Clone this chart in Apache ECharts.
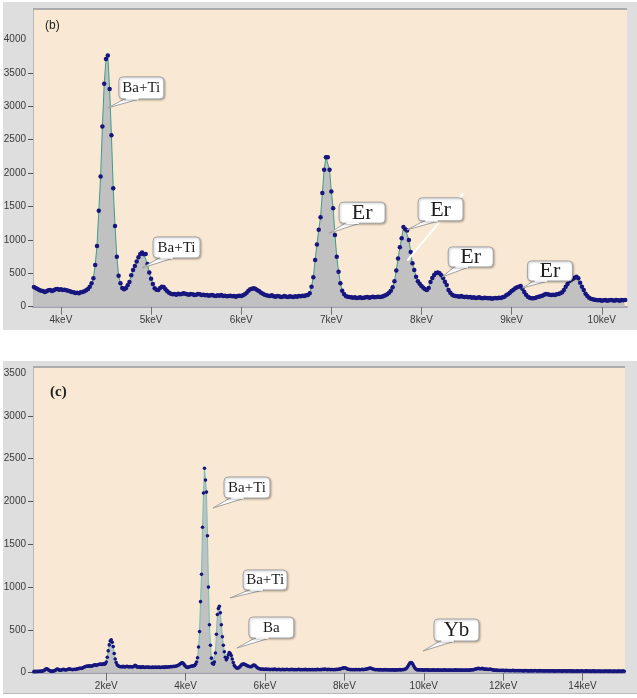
<!DOCTYPE html>
<html>
<head>
<meta charset="utf-8">
<script src="https://cdn.jsdelivr.net/npm/echarts@6/dist/echarts.min.js"></script>
<style>
  html, body { margin: 0; padding: 0; background: #ffffff; }
  #chart { width: 637px; height: 698px; }
</style>
</head>
<body>
<div id="chart"></div>
<script>
// ---------- Spectrum (b): counts per 0.02 keV channel, first channel at 3.70 keV ----------
const specB_start = 3.70;
const specB_step = 0.02;
const specB_counts = [
  // 3.70 - 4.32 keV
  295, 280, 265, 250, 240, 235, 220, 230, 245, 250, 235, 245, 260, 265, 255, 260, 250, 255, 245, 240,
  230, 220, 215, 205, 210, 200, 215, 220, 230, 245, 265, 300,
  // 4.34 - 4.70 keV
  350, 425, 625, 910, 1434, 1948, 2697, 3336, 3706, 3760, 3257, 2567, 1773, 1209, 749, 465, 350, 280, 262,
  // 4.72 - 5.22 keV
  275, 320, 370, 470, 550, 610, 675, 740, 790, 810, 785, 790, 640, 510, 420, 340, 275, 255, 250, 280,
  300, 295, 260, 230, 210, 195,
  // 5.24 - 6.00 keV
  185, 190, 180, 195, 185, 190, 200, 195, 185, 180, 190, 185, 175, 180, 190, 185, 175, 180, 170, 175,
  165, 170, 175, 165, 160, 170, 165, 175, 160, 165, 155, 160, 165, 155, 160, 150, 160, 165, 160,
  // 6.02 - 6.28 keV
  170, 185, 210, 240, 260, 270, 275, 265, 245, 230, 210, 195, 180, 170,
  // 6.30 - 6.74 keV
  165, 160, 170, 155, 150, 160, 155, 145, 150, 160, 150, 145, 155, 150, 145, 155, 150, 160, 155, 165,
  160, 170, 175,
  // 6.76 - 7.16 keV
  200, 300, 440, 700, 930, 1150, 1340, 1700, 2048, 2238, 2238, 2048, 1723, 1474, 1074, 749, 524, 350, 240, 190,
  160,
  // 7.18 - 7.60 keV
  150, 145, 140, 135, 140, 130, 135, 140, 130, 135, 140, 145, 135, 140, 150, 140, 145, 150, 145, 150,
  160, 170,
  // 7.62 - 8.36 keV
  185, 210, 240, 290, 380, 540, 720, 890, 1024, 1194, 1160, 1139, 999, 820, 650, 550, 450, 380, 345, 310,
  285, 260, 250, 280, 370, 430, 475, 505, 510, 500, 470, 430, 375, 325, 250, 210, 180, 165,
  // 8.38 - 8.92 keV
  160, 155, 150, 160, 150, 145, 150, 140, 145, 135, 140, 130, 135, 140, 130, 125, 135, 130, 125, 130,
  120, 125, 130, 125, 135, 130, 140, 150,
  // 8.94 - 9.22 keV
  170, 185, 210, 235, 255, 275, 290, 300, 310, 270, 220, 180, 150, 135, 125,
  // 9.24 - 9.56 keV
  125, 130, 140, 150, 155, 165, 180, 190, 185, 180, 175, 180, 175, 185, 190, 200, 215,
  // 9.58 - 9.90 keV
  250, 300, 340, 385, 405, 420, 435, 450, 425, 360, 300, 250, 195, 160, 135, 120, 110,
  // 9.92 - 10.26 keV
  105, 100, 95, 100, 90, 95, 100, 90, 95, 100, 95, 90, 100, 95, 90, 100, 95, 100
];

// ---------- Spectrum (c): counts per 0.025 keV channel, first channel at 0.15 keV ----------
const specC_start = 0.15;
const specC_step = 0.025;
const specC_counts = [
  14, 12, 15, 13, 16, 14, 15, 17, 16, 18, 20, 24, 32, 42, 47, 40, 30, 22, 18, 16,          // 0.150
  18, 20, 22, 30, 40, 43, 36, 30, 28, 32, 36, 39, 35, 32, 34, 38, 42, 45, 40, 38,          // 0.650
  36, 38, 40, 37, 42, 45, 48, 50, 52, 50, 55, 60, 66, 72, 76, 78, 75, 80, 78, 76,          // 1.150
  80, 85, 88, 92, 86, 90, 95, 98, 102, 96, 100, 104, 98, 105, 125, 180, 255, 325, 370, 385, // 1.650
  355, 305, 225, 160, 118, 92, 80, 74, 70, 72, 68, 74, 70, 66, 72, 75, 70, 68, 73, 70,     // 2.150
  66, 70, 74, 85, 80, 68, 64, 66, 70, 62, 65, 68, 64, 60, 66, 63, 67, 62, 64, 60,          // 2.650
  62, 65, 60, 64, 66, 61, 63, 67, 62, 60, 64, 66, 62, 65, 68, 64, 66, 70, 67, 72,          // 3.150
  70, 72, 74, 72, 76, 80, 84, 90, 98, 108, 115, 117, 105, 88, 74, 64, 62, 66, 70, 74,      // 3.650
  76, 80, 78, 85, 100, 125, 175, 300, 480, 830, 1150, 1700, 2100, 2388, 2250, 2110, 1600, 1000, 560, 320, // 4.150
  170, 110, 100, 125, 230, 450, 680, 750, 775, 700, 560, 420, 320, 245, 180, 150, 175, 210, 235, 225,     // 4.650
  200, 160, 120, 85, 70, 58, 52, 55, 62, 75, 88, 98, 102, 100, 95, 88, 82, 78, 72, 70,     // 5.150
  70, 78, 86, 90, 84, 72, 60, 52, 48, 44, 42, 40, 43, 38, 40, 42, 37, 39, 41, 36,          // 5.650
  38, 40, 36, 39, 42, 37, 35, 38, 40, 36, 34, 37, 39, 35, 38, 36, 40, 37, 35, 38,          // 6.150
  36, 39, 37, 34, 36, 38, 35, 37, 40, 36, 34, 38, 35, 37, 36, 39, 35, 34, 37, 36,          // 6.650
  35, 38, 36, 34, 37, 35, 36, 39, 37, 35, 38, 36, 40, 38, 42, 40, 38, 36, 39, 37,          // 7.150
  36, 38, 37, 35, 38, 36, 39, 37, 40, 42, 45, 48, 52, 56, 58, 55, 50, 44, 40, 38,          // 7.650
  36, 38, 35, 37, 34, 36, 38, 35, 37, 36, 34, 37, 39, 36, 38, 40, 42, 45, 48, 52,          // 8.150
  54, 50, 46, 42, 38, 36, 34, 37, 35, 33, 36, 34, 32, 35, 33, 36, 34, 31, 34, 32,          // 8.650
  34, 31, 33, 35, 32, 30, 33, 35, 32, 34, 36, 33, 35, 38, 36, 40, 46, 58, 75, 95,          // 9.150
  112, 120, 115, 98, 75, 55, 42, 36, 33, 35, 32, 34, 31, 33, 30, 32, 34, 31, 33, 30,       // 9.650
  32, 29, 31, 33, 30, 32, 28, 31, 33, 30, 29, 32, 30, 28, 31, 33, 30, 29, 31, 28,          // 10.150
  30, 32, 29, 31, 28, 30, 33, 29, 31, 30, 28, 32, 30, 29, 31, 28, 30, 32, 29, 31,          // 10.650
  30, 32, 34, 33, 36, 38, 42, 45, 48, 50, 48, 46, 47, 50, 45, 42, 40, 43, 41, 38,          // 11.150
  40, 42, 38, 35, 33, 30, 28, 30, 27, 29, 26, 28, 25, 27, 29, 26, 24, 27, 25, 26,          // 11.650
  24, 26, 23, 25, 27, 24, 22, 25, 23, 26, 24, 22, 25, 23, 21, 24, 22, 25, 23, 21,          // 12.150
  23, 21, 24, 22, 20, 23, 25, 22, 20, 23, 21, 24, 22, 20, 23, 21, 19, 22, 20, 23,          // 12.650
  21, 19, 22, 20, 23, 21, 18, 20, 22, 19, 21, 23, 20, 18, 21, 19, 22, 20, 18, 21,          // 13.150
  19, 22, 20, 18, 21, 19, 17, 20, 18, 21, 19, 17, 20, 22, 19, 17, 20, 18, 21, 19,          // 13.650
  17, 20, 18, 16, 19, 21, 18, 16, 19, 17, 20, 18, 16, 19, 17, 15, 18, 20, 17, 19,          // 14.150
  16, 18, 20, 17, 15, 18, 16, 19, 17, 15, 18, 20, 17, 16, 18, 19, 17, 16, 18, 17           // 14.650
];

// ---------- Axis ticks ----------
const ticksB_keV = [4, 5, 6, 7, 8, 9, 10];
const ticksC_keV = [2, 4, 6, 8, 10, 12, 14];
const labelsB_counts = [0, 500, 1000, 1500, 2000, 2500, 3000, 3500, 4000];
const labelsC_counts = [0, 500, 1000, 1500, 2000, 2500, 3000, 3500];

// ---------- Peak annotations (anchor = point the callout tail touches) ----------
const notesB_text = ['Ba+Ti', 'Ba+Ti', 'Er', 'Er', 'Er', 'Er'];
const notesB_keV = [4.52, 4.90, 6.975, 7.84, 8.23, 9.12];
const notesB_counts = [2975, 580, 1100, 1150, 445, 280];
const notesC_text = ['Ba+Ti', 'Ba+Ti', 'Ba', 'Yb'];
const notesC_keV = [4.69, 5.12, 5.29, 9.98];
const notesC_counts = [1924, 873, 288, 253];
// white streak across panel (b), ends in data units [keV, counts]
const streakB = [[8.465, 1698], [7.843, 689]];

// ---------- Layout / style ----------
const BEIGE = '#f9e8d3';
const PANEL = '#dedede';
const DOT = '#16167e';
const LINE = '#3d9d8c';
const AREA = '#c1c1c1';
const SANS = 'Liberation Sans, Arial, sans-serif';
const SERIF = 'Liberation Serif, Times New Roman, serif';
const fontSizeFor = { 'Ba+Ti': 15, 'Ba': 15, 'Er': 22, 'Yb': 21 };
const calloutB_layout = [[11, -31, 45, 22], [11, -31, 47, 21], [10, -31, 46, 21], [11, -32, 45, 23], [6, -30, 45, 20], [5, -27, 45, 20]];
const calloutC_layout = [[11, -31, 46, 21], [13, -28, 44, 20], [12, -31, 45, 21], [11, -32, 45, 22]];

const toPairs = (start, step, counts) => counts.map((c, i) => [+(start + i * step).toFixed(3), c]);

const chart = echarts.init(document.getElementById('chart'), null, { renderer: 'canvas' });

function xAxisOf(gridIndex, min, max, ticks) {
  return {
    gridIndex, type: 'value', min, max, position: 'bottom',
    axisLine: { show: true, onZero: false, lineStyle: { color: '#8d8da6', width: 1.5 } },
    axisTick: { show: true, length: 8, customValues: ticks, lineStyle: { color: '#6f6f6f', width: 1 } },
    axisLabel: { customValues: ticks, formatter: v => v + 'keV', fontSize: 10, color: '#3a3a3a', fontFamily: SANS, margin: 9 },
    splitLine: { show: false }
  };
}
function yAxisOf(gridIndex, max, labels) {
  return {
    gridIndex, type: 'value', min: 0, max,
    axisLine: { show: true, lineStyle: { color: '#b9b9b9', width: 1 } },
    axisTick: { show: true, length: 5, customValues: labels.slice(0, -1), lineStyle: { color: '#555555', width: 1 } },
    axisLabel: { customValues: labels, formatter: v => String(v), fontSize: 10, color: '#3a3a3a', fontFamily: SANS, margin: 7 },
    splitLine: { show: false }
  };
}
function spectrum(idx, data, size, lineColor) {
  return {
    type: 'line', xAxisIndex: idx, yAxisIndex: idx, data,
    symbol: 'circle', symbolSize: size, showAllSymbol: true, clip: true,
    itemStyle: { color: DOT, borderWidth: 0 },
    lineStyle: { color: lineColor, width: 1 },
    areaStyle: { color: AREA, opacity: 1 },
    emphasis: { disabled: true }, silent: true
  };
}

chart.setOption({
  animation: false,
  backgroundColor: '#ffffff',
  title: [
    { text: '(b)', left: 40, top: 15, textStyle: { fontFamily: SANS, fontSize: 12, fontWeight: 'normal', color: '#222' } },
    { text: '(c)', left: 45, top: 380, textStyle: { fontFamily: SERIF, fontSize: 15, fontWeight: 'bold', color: '#222' } }
  ],
  grid: [
    { left: 33, top: 10, width: 594, height: 296.7, show: true, backgroundColor: BEIGE, borderWidth: 0 },
    { left: 33, top: 368, width: 592, height: 304.7, show: true, backgroundColor: BEIGE, borderWidth: 0 }
  ],
  xAxis: [xAxisOf(0, 3.69, 10.28, ticksB_keV), xAxisOf(1, 0.154, 15.07, ticksC_keV)],
  yAxis: [yAxisOf(0, 4440, labelsB_counts), yAxisOf(1, 3560, labelsC_counts)],
  series: [
    spectrum(0, toPairs(specB_start, specB_step, specB_counts), 4.5, LINE),
    spectrum(1, toPairs(specC_start, specC_step, specC_counts), 3.6, '#6fbfb8')
  ]
});

// Callout boxes with a pointed tail, placed from data coordinates
function callout(gridIndex, text, keV, counts, lay) {
  const [tx, ty] = chart.convertToPixel({ gridIndex }, [keV, counts]);
  const bx = tx + lay[0], by = ty + lay[1], w = lay[2], h = lay[3];
  const b0 = bx + 6, b1 = bx + 21, yb = by + h;
  return [
    { type: 'polygon', z: 100, silent: true, shape: { points: [[tx, ty], [b0, yb], [b1, yb]] },
      style: { fill: '#ffffff', stroke: '#a0a0a0', lineWidth: 1 } },
    { type: 'rect', z: 101, silent: true, shape: { x: bx, y: by, width: w, height: h, r: 4 },
      style: { fill: '#ffffff', stroke: '#a3a3a3', lineWidth: 1, shadowBlur: 2, shadowOffsetX: 1, shadowOffsetY: 1, shadowColor: 'rgba(0,0,0,0.25)' } },
    { type: 'line', z: 102, silent: true, shape: { x1: b0 + 1.2, y1: yb, x2: b1 - 1.2, y2: yb },
      style: { stroke: '#ffffff', lineWidth: 1.6 } },
    { type: 'text', z: 103, silent: true,
      style: { text, x: bx + w / 2, y: by + h / 2 + 0.5, align: 'center', verticalAlign: 'middle',
               font: fontSizeFor[text] + 'px ' + SERIF, fill: '#1e1e1e' } }
  ];
}

const elements = [
  // grey frames behind the two plots
  { type: 'rect', z: -100, silent: true, shape: { x: 3, y: 2, width: 634, height: 328 }, style: { fill: PANEL } },
  { type: 'rect', z: -100, silent: true, shape: { x: 3, y: 361, width: 634, height: 333 }, style: { fill: PANEL } },
  { type: 'line', z: -99, silent: true, shape: { x1: 3, y1: 693.5, x2: 637, y2: 693.5 }, style: { stroke: '#b8b8b8', lineWidth: 1 } },
  // darker top edges of the plot areas
  { type: 'line', z: 5, silent: true, shape: { x1: 33, y1: 9, x2: 627, y2: 9 }, style: { stroke: '#ababab', lineWidth: 2 } },
  { type: 'line', z: 5, silent: true, shape: { x1: 33, y1: 367, x2: 625, y2: 367 }, style: { stroke: '#ababab', lineWidth: 2 } }
];

const s0 = chart.convertToPixel({ gridIndex: 0 }, streakB[0]);
const s1 = chart.convertToPixel({ gridIndex: 0 }, streakB[1]);
elements.push({ type: 'line', z: 50, silent: true, shape: { x1: s0[0], y1: s0[1], x2: s1[0], y2: s1[1] },
  style: { stroke: '#ffffff', lineWidth: 2 } });

notesB_text.forEach((t, i) => elements.push(...callout(0, t, notesB_keV[i], notesB_counts[i], calloutB_layout[i])));
notesC_text.forEach((t, i) => elements.push(...callout(1, t, notesC_keV[i], notesC_counts[i], calloutC_layout[i])));

chart.setOption({ graphic: { elements } });
</script>
</body>
</html>
